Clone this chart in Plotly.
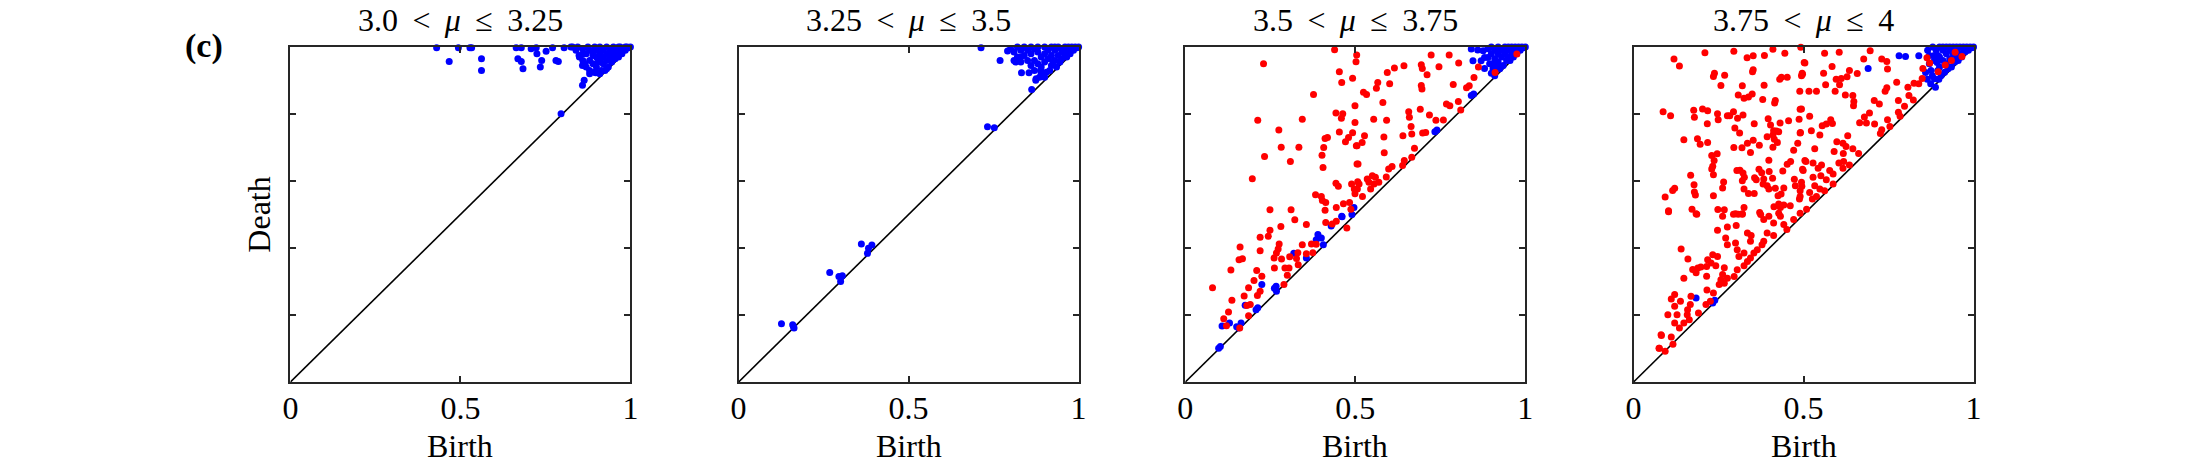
import plotly.graph_objects as go

W, H = 2188, 469

SP = "&nbsp;\u2009"
titles = ["3.0" + SP + "&lt;" + SP + "<i>μ</i>" + SP + "≤" + SP + "3.25",
          "3.25" + SP + "&lt;" + SP + "<i>μ</i>" + SP + "≤" + SP + "3.5",
          "3.5" + SP + "&lt;" + SP + "<i>μ</i>" + SP + "≤" + SP + "3.75",
          "3.75" + SP + "&lt;" + SP + "<i>μ</i>" + SP + "≤" + SP + "4"]
x_tick_vals = [0, 0.5, 1]
x_tick_text = ["0", "0.5", "1"]
y_tick_vals = [0, 0.2, 0.4, 0.6, 0.8, 1.0]

# ---- panel 1 (blue only) : (birth, death)
p1_blue = [
    (0.430, 0.998), (0.494, 0.998), (0.528, 0.998), (0.533, 0.998), (0.467, 0.957),
    (0.562, 0.965), (0.562, 0.930), (0.664, 0.998), (0.679, 0.998), (0.708, 0.995),
    (0.723, 0.998), (0.771, 0.998), (0.805, 0.998), (0.825, 1.000), (0.669, 0.965),
    (0.679, 0.957), (0.684, 0.935), (0.725, 0.980), (0.739, 0.960), (0.735, 0.940),
    (0.752, 0.987), (0.781, 0.960), (0.788, 0.957), (0.849, 0.975), (0.859, 0.945),
    (0.864, 0.901), (0.859, 0.886), (0.796, 0.801), (0.898, 0.923),
    (0.84, 0.99), (0.85, 0.97), (0.86, 0.995), (0.86, 0.96), (0.87, 0.98), (0.87, 0.94),
    (0.88, 0.99), (0.88, 0.96), (0.88, 0.93), (0.89, 0.975), (0.89, 0.95), (0.90, 0.99),
    (0.90, 0.97), (0.90, 0.94), (0.91, 1.00), (0.91, 0.98), (0.91, 0.96), (0.915, 0.93),
    (0.92, 0.99), (0.92, 0.97), (0.92, 0.95), (0.93, 1.00), (0.93, 0.98), (0.93, 0.96),
    (0.935, 0.94), (0.94, 0.99), (0.94, 0.97), (0.945, 0.955), (0.95, 1.00), (0.95, 0.98),
    (0.955, 0.965), (0.96, 0.99), (0.96, 0.975), (0.965, 0.97), (0.97, 1.00), (0.97, 0.985),
    (0.975, 0.98), (0.98, 0.995), (0.985, 0.99), (0.99, 1.00), (0.995, 0.998), (1.0, 1.0),
    (0.875, 1.00), (0.895, 1.00), (0.905, 0.955), (0.925, 0.93), (0.945, 0.985),
    (0.955, 0.99), (0.965, 1.00), (0.985, 1.00), (0.86, 0.98), (0.89, 0.985), (0.83, 1.00),
    (0.845, 1.00), (0.865, 0.95), (0.88, 0.92), (0.895, 0.925), (0.91, 0.92), (0.93, 0.935),
]
p1_red = []

# ---- panel 2 (blue only)
p2_blue = [
    (0.713, 0.998), (0.769, 0.960), (0.791, 0.988), (0.810, 0.960), (0.815, 0.955),
    (0.832, 0.923), (0.854, 0.923), (0.862, 0.873), (0.874, 0.901), (0.888, 0.930),
    (0.732, 0.762), (0.752, 0.759), (0.361, 0.412), (0.382, 0.399), (0.392, 0.409),
    (0.379, 0.384), (0.268, 0.327), (0.295, 0.315), (0.305, 0.317), (0.300, 0.300),
    (0.126, 0.174), (0.159, 0.171), (0.163, 0.161), (0.161, 0.166),
    (0.80, 0.995), (0.81, 0.985), (0.82, 1.00), (0.83, 0.99), (0.82, 0.97), (0.84, 0.975),
    (0.83, 0.955), (0.85, 0.99), (0.85, 0.96), (0.86, 0.945), (0.87, 0.93), (0.885, 0.91),
    (0.89, 0.92), (0.875, 0.905), (0.86, 0.98), (0.87, 0.995), (0.87, 0.96), (0.88, 0.985),
    (0.88, 0.95), (0.89, 0.97), (0.89, 0.94), (0.90, 1.00), (0.90, 0.98), (0.90, 0.955),
    (0.905, 0.925), (0.91, 0.99), (0.91, 0.965), (0.92, 1.00), (0.92, 0.975), (0.92, 0.945),
    (0.93, 0.99), (0.93, 0.96), (0.935, 0.94), (0.94, 1.00), (0.94, 0.975), (0.945, 0.955),
    (0.95, 0.99), (0.95, 0.965), (0.96, 1.00), (0.96, 0.98), (0.965, 0.97), (0.97, 0.99),
    (0.975, 0.98), (0.98, 1.00), (0.985, 0.99), (0.99, 1.00), (1.0, 1.0), (0.995, 0.998),
    (0.84, 1.00), (0.86, 1.00), (0.88, 1.00), (0.93, 1.00), (0.97, 1.00), (0.83, 0.97),
    (0.9, 0.91), (0.915, 0.93), (0.925, 0.955), (0.955, 0.985),
]
p2_red = []

# ---- panel 3
p3_blue = [
    (0.460, 0.495), (0.496, 0.521), (0.734, 0.747), (0.740, 0.752), (0.848, 0.860),
    (0.841, 0.855), (0.098, 0.101), (0.108, 0.167), (0.130, 0.176), (0.157, 0.161),
    (0.164, 0.176), (0.176, 0.229), (0.208, 0.216), (0.213, 0.222), (0.225, 0.291),
    (0.267, 0.286), (0.268, 0.271), (0.262, 0.280), (0.319, 0.384), (0.356, 0.370),
    (0.390, 0.440), (0.400, 0.430), (0.385, 0.425), (0.406, 0.410), (0.429, 0.466),
    (0.461, 0.493), (0.490, 0.500), (0.151, 0.165), (0.103, 0.106),
    (0.841, 0.994), (0.860, 0.991), (0.876, 0.989), (0.880, 0.969), (0.890, 0.969),
    (0.846, 0.959), (0.870, 0.959), (0.880, 0.936), (0.904, 0.949), (0.919, 0.939),
    (0.900, 0.922), (0.910, 0.914), (0.90, 1.00), (0.90, 0.98), (0.91, 0.99), (0.91, 0.965),
    (0.92, 1.00), (0.92, 0.98), (0.92, 0.955), (0.93, 0.99), (0.93, 0.97), (0.935, 0.945),
    (0.94, 1.00), (0.94, 0.98), (0.945, 0.96), (0.95, 0.99), (0.95, 0.97), (0.96, 1.00),
    (0.96, 0.985), (0.965, 0.97), (0.97, 0.995), (0.975, 0.98), (0.98, 1.00), (0.985, 0.99),
    (0.99, 1.00), (1.0, 1.0), (0.995, 0.998), (0.925, 0.935), (0.955, 0.96), (0.89, 0.995),
    (0.95, 1.00), (0.97, 1.00), (0.905, 0.935), (0.895, 0.95),
]
p3_red = [
    (0.439, 0.992), (0.504, 0.976), (0.502, 0.956), (0.230, 0.950), (0.453, 0.926),
    (0.460, 0.894), (0.492, 0.907), (0.377, 0.858), (0.499, 0.825), (0.443, 0.803),
    (0.463, 0.801), (0.459, 0.787), (0.499, 0.775), (0.213, 0.781), (0.344, 0.784),
    (0.275, 0.752), (0.453, 0.746), (0.492, 0.744), (0.480, 0.730), (0.471, 0.717),
    (0.411, 0.727), (0.418, 0.730), (0.407, 0.700), (0.282, 0.701), (0.334, 0.701),
    (0.233, 0.673), (0.402, 0.677), (0.309, 0.658), (0.405, 0.640), (0.503, 0.705),
    (0.505, 0.651), (0.197, 0.607), (0.443, 0.593), (0.450, 0.584), (0.489, 0.591),
    (0.507, 0.598), (0.497, 0.576), (0.499, 0.562), (0.383, 0.559), (0.400, 0.554),
    (0.403, 0.542), (0.413, 0.536), (0.411, 0.513), (0.444, 0.521), (0.465, 0.532),
    (0.483, 0.536), (0.487, 0.516), (0.249, 0.514), (0.311, 0.514),
    (0.723, 0.976), (0.776, 0.976), (0.804, 0.952), (0.643, 0.944), (0.615, 0.937),
    (0.594, 0.924), (0.694, 0.947), (0.697, 0.936), (0.711, 0.917), (0.746, 0.941),
    (0.566, 0.894), (0.562, 0.877), (0.601, 0.890), (0.524, 0.865), (0.533, 0.858),
    (0.694, 0.885), (0.696, 0.875), (0.788, 0.888), (0.827, 0.878), (0.835, 0.884),
    (0.849, 0.909), (0.975, 0.979), (0.911, 0.924), (0.581, 0.834), (0.691, 0.814),
    (0.768, 0.830), (0.778, 0.825), (0.803, 0.837), (0.810, 0.812), (0.718, 0.797),
    (0.657, 0.807), (0.659, 0.790), (0.554, 0.784), (0.592, 0.781), (0.737, 0.781),
    (0.759, 0.782), (0.664, 0.763), (0.698, 0.743), (0.707, 0.745), (0.666, 0.740),
    (0.640, 0.735), (0.584, 0.731), (0.527, 0.735), (0.505, 0.705), (0.520, 0.715),
    (0.674, 0.698), (0.585, 0.684), (0.508, 0.651), (0.644, 0.661), (0.639, 0.646),
    (0.666, 0.671), (0.608, 0.643), (0.598, 0.636), (0.591, 0.612), (0.550, 0.616),
    (0.559, 0.611), (0.540, 0.596), (0.555, 0.591), (0.569, 0.596), (0.545, 0.576),
    (0.535, 0.606), (0.511, 0.591), (0.521, 0.554), (0.506, 0.576), (0.862, 0.940),
    (0.322, 0.484), (0.356, 0.470), (0.281, 0.464), (0.413, 0.476), (0.432, 0.472),
    (0.444, 0.480), (0.475, 0.460), (0.249, 0.453), (0.244, 0.435), (0.220, 0.432),
    (0.276, 0.412), (0.273, 0.397), (0.268, 0.385), (0.261, 0.370), (0.283, 0.367),
    (0.307, 0.374), (0.327, 0.369), (0.220, 0.392), (0.161, 0.403), (0.168, 0.368),
    (0.158, 0.365), (0.134, 0.334), (0.210, 0.333), (0.225, 0.316), (0.202, 0.303),
    (0.186, 0.281), (0.173, 0.257), (0.262, 0.340), (0.293, 0.340), (0.305, 0.340),
    (0.300, 0.319), (0.290, 0.291), (0.332, 0.350), (0.344, 0.410), (0.371, 0.412),
    (0.356, 0.383), (0.331, 0.386), (0.375, 0.386), (0.385, 0.411), (0.080, 0.281),
    (0.137, 0.244), (0.127, 0.209), (0.113, 0.189), (0.121, 0.168), (0.220, 0.271),
    (0.212, 0.258), (0.191, 0.231), (0.181, 0.228), (0.186, 0.198), (0.160, 0.161),
]

# ---- panel 4
p4_blue = [
    (0.781, 0.974), (0.800, 0.972), (0.839, 0.974), (0.690, 0.936), (0.184, 0.251),
    (0.239, 0.244), (0.233, 0.236), (0.859, 0.924), (0.864, 0.904), (0.874, 0.890),
    (0.888, 0.880), (0.898, 0.904), (0.879, 0.914), (0.893, 0.954), (0.883, 0.974),
    (0.88, 1.00), (0.89, 0.99), (0.90, 1.00), (0.90, 0.97), (0.90, 0.94), (0.91, 0.99),
    (0.91, 0.96), (0.915, 0.925), (0.92, 1.00), (0.92, 0.98), (0.92, 0.95), (0.93, 0.99),
    (0.93, 0.965), (0.935, 0.94), (0.94, 1.00), (0.94, 0.98), (0.945, 0.955), (0.95, 0.99),
    (0.95, 0.97), (0.96, 1.00), (0.96, 0.98), (0.965, 0.97), (0.97, 0.995), (0.975, 0.985),
    (0.98, 1.00), (0.985, 0.99), (0.99, 1.00), (1.0, 1.0), (0.995, 0.998), (0.87, 0.95),
    (0.875, 0.93), (0.885, 0.905), (0.895, 0.93), (0.905, 0.915), (0.925, 0.935),
    (0.955, 0.96), (0.87, 0.975), (0.895, 0.975), (0.91, 1.00), (0.93, 1.00), (0.95, 1.00),
    (0.97, 1.00), (0.865, 0.99), (0.885, 0.96),
]
p4_red = [
    (0.210, 0.983), (0.295, 0.987), (0.410, 0.993), (0.492, 0.999), (0.119, 0.964),
    (0.135, 0.943), (0.334, 0.968), (0.352, 0.974), (0.385, 0.975), (0.445, 0.981),
    (0.502, 0.954), (0.238, 0.922), (0.235, 0.912), (0.268, 0.916), (0.352, 0.932),
    (0.350, 0.926), (0.257, 0.885), (0.320, 0.884), (0.308, 0.857), (0.325, 0.847),
    (0.338, 0.851), (0.349, 0.860), (0.380, 0.843), (0.384, 0.886), (0.417, 0.840),
    (0.415, 0.833), (0.430, 0.904), (0.435, 0.910), (0.452, 0.910), (0.496, 0.922),
    (0.494, 0.914), (0.489, 0.868), (0.490, 0.814), (0.087, 0.807), (0.109, 0.795),
    (0.177, 0.811), (0.203, 0.815), (0.218, 0.810), (0.179, 0.790), (0.247, 0.801),
    (0.249, 0.783), (0.276, 0.795), (0.294, 0.807), (0.283, 0.795), (0.306, 0.787),
    (0.322, 0.797), (0.217, 0.771), (0.355, 0.771), (0.396, 0.786), (0.403, 0.767),
    (0.431, 0.773), (0.456, 0.780), (0.487, 0.784), (0.298, 0.758), (0.312, 0.743),
    (0.412, 0.750), (0.420, 0.749), (0.427, 0.747), (0.393, 0.732), (0.410, 0.737),
    (0.414, 0.725), (0.148, 0.723), (0.188, 0.726), (0.196, 0.710), (0.218, 0.715),
    (0.295, 0.700), (0.319, 0.699), (0.335, 0.713), (0.352, 0.722), (0.370, 0.707),
    (0.423, 0.715), (0.410, 0.701), (0.483, 0.713), (0.490, 0.743), (0.471, 0.692),
    (0.230, 0.676), (0.246, 0.681), (0.237, 0.661), (0.233, 0.644), (0.230, 0.636),
    (0.344, 0.685), (0.398, 0.662), (0.304, 0.631), (0.313, 0.632), (0.322, 0.624),
    (0.326, 0.611), (0.320, 0.601), (0.369, 0.635), (0.377, 0.625), (0.399, 0.628),
    (0.452, 0.650), (0.462, 0.658), (0.439, 0.630), (0.507, 0.658), (0.497, 0.635),
    (0.168, 0.617), (0.235, 0.619), (0.178, 0.589), (0.265, 0.597), (0.262, 0.579),
    (0.356, 0.610), (0.361, 0.604), (0.383, 0.606), (0.381, 0.591), (0.393, 0.586),
    (0.409, 0.608), (0.398, 0.576), (0.417, 0.578), (0.442, 0.579), (0.473, 0.605),
    (0.476, 0.586), (0.495, 0.584), (0.490, 0.571), (0.121, 0.578), (0.115, 0.572),
    (0.325, 0.576), (0.338, 0.563), (0.355, 0.563), (0.179, 0.567), (0.182, 0.558),
    (0.093, 0.552), (0.235, 0.556), (0.425, 0.556), (0.434, 0.561), (0.490, 0.554),
    (0.488, 0.546), (0.103, 0.508), (0.172, 0.516), (0.186, 0.501), (0.248, 0.515),
    (0.267, 0.514), (0.325, 0.521), (0.294, 0.501), (0.308, 0.501), (0.320, 0.501),
    (0.371, 0.506), (0.413, 0.523), (0.427, 0.531), (0.432, 0.521), (0.442, 0.528),
    (0.461, 0.526), (0.427, 0.504),
    (0.562, 0.981), (0.605, 0.984), (0.696, 0.989), (0.504, 0.952), (0.677, 0.964),
    (0.730, 0.964), (0.745, 0.957), (0.584, 0.942), (0.747, 0.934), (0.559, 0.922),
    (0.497, 0.919), (0.635, 0.930), (0.628, 0.911), (0.658, 0.921), (0.596, 0.904),
    (0.611, 0.906), (0.606, 0.887), (0.565, 0.887), (0.516, 0.868), (0.538, 0.868),
    (0.593, 0.868), (0.623, 0.857), (0.645, 0.855), (0.648, 0.837), (0.647, 0.825),
    (0.740, 0.868), (0.745, 0.878), (0.774, 0.895), (0.708, 0.840), (0.723, 0.830),
    (0.779, 0.840), (0.807, 0.880), (0.810, 0.855), (0.825, 0.892), (0.839, 0.890),
    (0.849, 0.906), (0.851, 0.936), (0.863, 0.968), (0.871, 0.952), (0.494, 0.815),
    (0.518, 0.793), (0.694, 0.803), (0.679, 0.791), (0.665, 0.774), (0.685, 0.773),
    (0.709, 0.770), (0.730, 0.753), (0.726, 0.742), (0.747, 0.783), (0.754, 0.763),
    (0.779, 0.805), (0.784, 0.793), (0.823, 0.842), (0.797, 0.823), (0.567, 0.770),
    (0.555, 0.765), (0.580, 0.783), (0.585, 0.772), (0.523, 0.750), (0.548, 0.737),
    (0.491, 0.745), (0.630, 0.735), (0.616, 0.713), (0.598, 0.717), (0.625, 0.703),
    (0.645, 0.696), (0.533, 0.696), (0.590, 0.688), (0.662, 0.682), (0.617, 0.682),
    (0.504, 0.661), (0.528, 0.654), (0.553, 0.648), (0.543, 0.638), (0.577, 0.631),
    (0.587, 0.621), (0.604, 0.654), (0.618, 0.658), (0.635, 0.648), (0.616, 0.638),
    (0.528, 0.611), (0.551, 0.616), (0.567, 0.604), (0.587, 0.591), (0.533, 0.586),
    (0.548, 0.576), (0.562, 0.571), (0.518, 0.566), (0.526, 0.546), (0.538, 0.554),
    (0.509, 0.516), (0.499, 0.631), (0.494, 0.596),
    (0.946, 0.984), (0.917, 0.946), (0.966, 0.972), (0.896, 0.926), (0.935, 0.96),
    (0.103, 0.511), (0.184, 0.502), (0.262, 0.495), (0.276, 0.463), (0.271, 0.430),
    (0.247, 0.453), (0.300, 0.502), (0.320, 0.502), (0.302, 0.467), (0.335, 0.445),
    (0.346, 0.437), (0.344, 0.420), (0.374, 0.500), (0.383, 0.485), (0.398, 0.495),
    (0.412, 0.475), (0.432, 0.495), (0.442, 0.470), (0.451, 0.455), (0.471, 0.485),
    (0.490, 0.504), (0.393, 0.445), (0.412, 0.437), (0.383, 0.420), (0.378, 0.410),
    (0.364, 0.395), (0.354, 0.385), (0.344, 0.370), (0.335, 0.360), (0.325, 0.347),
    (0.305, 0.395), (0.310, 0.375), (0.300, 0.415), (0.325, 0.385), (0.276, 0.410),
    (0.247, 0.375), (0.233, 0.380), (0.218, 0.365), (0.215, 0.345), (0.228, 0.355),
    (0.160, 0.367), (0.140, 0.397), (0.174, 0.336), (0.189, 0.340), (0.184, 0.326),
    (0.148, 0.310), (0.198, 0.343), (0.215, 0.316), (0.242, 0.347), (0.267, 0.341),
    (0.262, 0.321), (0.257, 0.305), (0.267, 0.295), (0.252, 0.291), (0.276, 0.310),
    (0.305, 0.335), (0.296, 0.315), (0.216, 0.275), (0.235, 0.266), (0.226, 0.241),
    (0.213, 0.231), (0.121, 0.261), (0.111, 0.248), (0.138, 0.241), (0.121, 0.226),
    (0.169, 0.256), (0.167, 0.231), (0.159, 0.216), (0.158, 0.201), (0.164, 0.186),
    (0.148, 0.176), (0.135, 0.161), (0.101, 0.201), (0.128, 0.201), (0.121, 0.176),
    (0.191, 0.206), (0.082, 0.139), (0.111, 0.134), (0.116, 0.113), (0.075, 0.101),
    (0.093, 0.092), (0.076, 0.101), (0.081, 0.141),
]

panels = [(p1_blue, p1_red), (p2_blue, p2_red), (p3_blue, p3_red), (p4_blue, p4_red)]
diag = [0, 1]

# layout geometry (pixels)
lefts = [284.5, 736, 1186, 1637.5]
pw = 342.5
top_px, bot_px = 47, 382

AX = "#262626"
FONT = "Liberation Serif"
FS = 32

fig = go.Figure()
layout = dict(width=W, height=H, margin=dict(l=0, r=0, t=0, b=0),
              plot_bgcolor="white", paper_bgcolor="white", showlegend=False,
              font=dict(family=FONT, size=FS, color="#000000"))
annotations = []
for i, (blue, red) in enumerate(panels):
    n = "" if i == 0 else str(i + 1)
    xa, ya = "x" + n, "y" + n
    x0 = lefts[i] / W
    x1 = (lefts[i] + pw) / W
    layout["xaxis" + n] = dict(
        domain=[x0, x1], range=[0, 1], anchor=ya, showgrid=False, zeroline=False,
        showline=True, linecolor=AX, linewidth=2, mirror="ticks",
        ticks="inside", ticklen=6, tickwidth=2, tickcolor=AX,
        tickvals=x_tick_vals, ticktext=x_tick_text, ticklabelstandoff=-3,
        tickfont=dict(family=FONT, size=FS, color="#000000"), fixedrange=True)
    layout["yaxis" + n] = dict(
        domain=[1 - bot_px / H, 1 - top_px / H], range=[0, 1], anchor=xa,
        showgrid=False, zeroline=False, showline=True, linecolor=AX, linewidth=2,
        mirror="ticks", ticks="inside", ticklen=6, tickwidth=2, tickcolor=AX,
        tickvals=y_tick_vals, showticklabels=False, fixedrange=True)
    fig.add_trace(go.Scatter(x=diag, y=diag, mode="lines", xaxis=xa, yaxis=ya,
                             line=dict(color="black", width=1.6), hoverinfo="skip"))
    if blue:
        fig.add_trace(go.Scatter(x=[p[0] for p in blue], y=[p[1] for p in blue],
                                 mode="markers", xaxis=xa, yaxis=ya, cliponaxis=False,
                                 marker=dict(color="#0000ff", size=7, line=dict(width=0))))
    if red:
        fig.add_trace(go.Scatter(x=[p[0] for p in red], y=[p[1] for p in red],
                                 mode="markers", xaxis=xa, yaxis=ya, cliponaxis=False,
                                 marker=dict(color="#ff0000", size=7, line=dict(width=0))))
    cx = (x0 + x1) / 2
    annotations.append(dict(text=titles[i], x=cx, y=1 - 20 / H, xref="paper", yref="paper",
                            xanchor="center", yanchor="middle", showarrow=False,
                            font=dict(family=FONT, size=FS, color="#000000")))
    annotations.append(dict(text="Birth", x=cx, y=1 - 446 / H, xref="paper", yref="paper",
                            xanchor="center", yanchor="middle", showarrow=False,
                            font=dict(family=FONT, size=FS, color="#000000")))

annotations.append(dict(text="Death", x=252 / W, y=1 - 214.5 / H, xref="paper", yref="paper",
                        xanchor="center", yanchor="middle", showarrow=False, textangle=-90,
                        font=dict(family=FONT, size=FS, color="#000000")))
annotations.append(dict(text="<b>(c)</b>", x=197 / W, y=1 - 46 / H, xref="paper", yref="paper",
                        xanchor="center", yanchor="middle", showarrow=False,
                        font=dict(family=FONT, size=34, color="#000000")))
layout["annotations"] = annotations
fig.update_layout(**layout)
fig.write_html("out.html")
